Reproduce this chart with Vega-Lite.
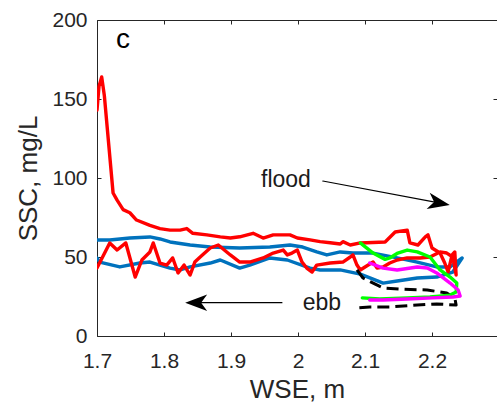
{
  "$schema": "https://vega.github.io/schema/vega-lite/v6.json",
  "width": 400,
  "height": 316,
  "autosize": {"type": "none"},
  "padding": {"left": 97, "top": 20, "right": 0, "bottom": 73},
  "background": "white",
  "config": {
    "font": "Liberation Sans",
    "view": {"stroke": null},
    "line": {"strokeJoin": "round", "strokeCap": "round"},
    "axis": {
      "grid": false,
      "domainColor": "#262626",
      "tickColor": "#262626",
      "labelColor": "#262626",
      "titleColor": "#262626",
      "domainWidth": 1,
      "tickWidth": 1,
      "labelFont": "Liberation Sans",
      "titleFont": "Liberation Sans",
      "labelFontSize": 21,
      "titleFontSize": 26,
      "titleFontWeight": "normal"
    }
  },
  "datasets": {
    "blue": [
      {"wse": 1.700, "ssc": 60.8}, {"wse": 1.719, "ssc": 60.8}, {"wse": 1.749, "ssc": 62}, {"wse": 1.779, "ssc": 62.7},
      {"wse": 1.794, "ssc": 61.4}, {"wse": 1.809, "ssc": 59.5}, {"wse": 1.839, "ssc": 57.6}, {"wse": 1.869, "ssc": 56.3},
      {"wse": 1.913, "ssc": 55.7}, {"wse": 1.958, "ssc": 56.3}, {"wse": 1.988, "ssc": 57.6}, {"wse": 2.007, "ssc": 56.3},
      {"wse": 2.028, "ssc": 53.2}, {"wse": 2.043, "ssc": 51.3}, {"wse": 2.063, "ssc": 53.2}, {"wse": 2.082, "ssc": 52.5},
      {"wse": 2.112, "ssc": 52.5}, {"wse": 2.148, "ssc": 49.4}, {"wse": 2.178, "ssc": 46.8}, {"wse": 2.207, "ssc": 43.7},
      {"wse": 2.227, "ssc": 43.7}, {"wse": 2.245, "ssc": 49.4}, {"wse": 2.231, "ssc": 40.5}, {"wse": 2.207, "ssc": 37.3},
      {"wse": 2.178, "ssc": 36.7}, {"wse": 2.148, "ssc": 34.8}, {"wse": 2.127, "ssc": 33.5}, {"wse": 2.112, "ssc": 36},
      {"wse": 2.093, "ssc": 39.2}, {"wse": 2.063, "ssc": 41.8}, {"wse": 2.033, "ssc": 41.8}, {"wse": 2.018, "ssc": 43},
      {"wse": 1.984, "ssc": 48.1}, {"wse": 1.958, "ssc": 49.4}, {"wse": 1.928, "ssc": 44.9}, {"wse": 1.913, "ssc": 43},
      {"wse": 1.884, "ssc": 48.1}, {"wse": 1.869, "ssc": 46.2}, {"wse": 1.839, "ssc": 43.7}, {"wse": 1.824, "ssc": 41.8},
      {"wse": 1.809, "ssc": 43}, {"wse": 1.779, "ssc": 46.8}, {"wse": 1.764, "ssc": 46.2}, {"wse": 1.734, "ssc": 43.7},
      {"wse": 1.704, "ssc": 46.8}, {"wse": 1.700, "ssc": 49.4}
    ],
    "red": [
      {"wse": 1.700, "ssc": 143}, {"wse": 1.703, "ssc": 158}, {"wse": 1.707, "ssc": 164}, {"wse": 1.711, "ssc": 152},
      {"wse": 1.724, "ssc": 90.5}, {"wse": 1.730, "ssc": 86}, {"wse": 1.739, "ssc": 80}, {"wse": 1.749, "ssc": 78},
      {"wse": 1.759, "ssc": 73.4}, {"wse": 1.779, "ssc": 70}, {"wse": 1.794, "ssc": 68}, {"wse": 1.809, "ssc": 67},
      {"wse": 1.824, "ssc": 67}, {"wse": 1.834, "ssc": 68}, {"wse": 1.843, "ssc": 65}, {"wse": 1.864, "ssc": 64},
      {"wse": 1.884, "ssc": 62.7}, {"wse": 1.899, "ssc": 62}, {"wse": 1.913, "ssc": 62.8}, {"wse": 1.933, "ssc": 65},
      {"wse": 1.948, "ssc": 62}, {"wse": 1.963, "ssc": 64}, {"wse": 1.988, "ssc": 64}, {"wse": 1.999, "ssc": 62},
      {"wse": 2.018, "ssc": 60.8}, {"wse": 2.033, "ssc": 59.7}, {"wse": 2.048, "ssc": 59}, {"wse": 2.063, "ssc": 58.2},
      {"wse": 2.067, "ssc": 59.7}, {"wse": 2.078, "ssc": 57.6}, {"wse": 2.093, "ssc": 58.9}, {"wse": 2.130, "ssc": 59.5},
      {"wse": 2.145, "ssc": 65.8}, {"wse": 2.163, "ssc": 67}, {"wse": 2.167, "ssc": 58.9}, {"wse": 2.179, "ssc": 57.6},
      {"wse": 2.190, "ssc": 62.7}, {"wse": 2.194, "ssc": 64}, {"wse": 2.200, "ssc": 55.7}, {"wse": 2.212, "ssc": 52.5},
      {"wse": 2.219, "ssc": 46.2}, {"wse": 2.224, "ssc": 40.5}, {"wse": 2.230, "ssc": 51.3}, {"wse": 2.234, "ssc": 53.2},
      {"wse": 2.236, "ssc": 38.6}, {"wse": 2.231, "ssc": 50}, {"wse": 2.222, "ssc": 52.5}, {"wse": 2.212, "ssc": 53.2},
      {"wse": 2.197, "ssc": 50}, {"wse": 2.182, "ssc": 49.4}, {"wse": 2.163, "ssc": 49.4}, {"wse": 2.148, "ssc": 48.1},
      {"wse": 2.137, "ssc": 46.2}, {"wse": 2.127, "ssc": 43.7}, {"wse": 2.118, "ssc": 43}, {"wse": 2.112, "ssc": 46.8},
      {"wse": 2.100, "ssc": 43.7}, {"wse": 2.093, "ssc": 41.8}, {"wse": 2.088, "ssc": 44.9}, {"wse": 2.082, "ssc": 51.3},
      {"wse": 2.078, "ssc": 50}, {"wse": 2.067, "ssc": 46.8}, {"wse": 2.048, "ssc": 46.2}, {"wse": 2.028, "ssc": 44.9},
      {"wse": 2.021, "ssc": 40.5}, {"wse": 2.013, "ssc": 43}, {"wse": 2.006, "ssc": 46.8}, {"wse": 1.999, "ssc": 54.4},
      {"wse": 1.991, "ssc": 52.5}, {"wse": 1.984, "ssc": 51.3}, {"wse": 1.978, "ssc": 54.4}, {"wse": 1.963, "ssc": 52.5},
      {"wse": 1.948, "ssc": 49.4}, {"wse": 1.928, "ssc": 46.8}, {"wse": 1.913, "ssc": 46.8}, {"wse": 1.899, "ssc": 51.3},
      {"wse": 1.881, "ssc": 57.6}, {"wse": 1.869, "ssc": 55.7}, {"wse": 1.854, "ssc": 50}, {"wse": 1.846, "ssc": 46.8},
      {"wse": 1.839, "ssc": 38.6}, {"wse": 1.830, "ssc": 44.9}, {"wse": 1.821, "ssc": 39.9}, {"wse": 1.813, "ssc": 49.4},
      {"wse": 1.804, "ssc": 44.9}, {"wse": 1.794, "ssc": 46.2}, {"wse": 1.784, "ssc": 58.9}, {"wse": 1.779, "ssc": 53.2},
      {"wse": 1.767, "ssc": 48.1}, {"wse": 1.757, "ssc": 37.3}, {"wse": 1.743, "ssc": 58.9}, {"wse": 1.730, "ssc": 54.4},
      {"wse": 1.719, "ssc": 58.9}, {"wse": 1.700, "ssc": 43}
    ],
    "dashed": [
      {"wse": 2.088, "ssc": 41.8}, {"wse": 2.097, "ssc": 36.7}, {"wse": 2.127, "ssc": 30.4}, {"wse": 2.152, "ssc": 29.7},
      {"wse": 2.193, "ssc": 29.1}, {"wse": 2.222, "ssc": 27.2}, {"wse": 2.234, "ssc": 24.1}, {"wse": 2.236, "ssc": 19.6},
      {"wse": 2.207, "ssc": 20.3}, {"wse": 2.178, "ssc": 19.6}, {"wse": 2.137, "ssc": 18.4}, {"wse": 2.107, "ssc": 18.4},
      {"wse": 2.085, "ssc": 17.7}
    ],
    "green": [
      {"wse": 2.093, "ssc": 58.9}, {"wse": 2.112, "ssc": 52.5}, {"wse": 2.130, "ssc": 48.5}, {"wse": 2.137, "ssc": 49.4},
      {"wse": 2.149, "ssc": 52.5}, {"wse": 2.163, "ssc": 54.4}, {"wse": 2.178, "ssc": 53.2}, {"wse": 2.197, "ssc": 50},
      {"wse": 2.212, "ssc": 41.8}, {"wse": 2.227, "ssc": 37.3}, {"wse": 2.237, "ssc": 33.5}, {"wse": 2.236, "ssc": 27.8},
      {"wse": 2.227, "ssc": 25.9}, {"wse": 2.197, "ssc": 24.7}, {"wse": 2.163, "ssc": 24.1}, {"wse": 2.122, "ssc": 23.4},
      {"wse": 2.096, "ssc": 24.1}
    ],
    "magenta": [
      {"wse": 2.107, "ssc": 46.2}, {"wse": 2.127, "ssc": 43}, {"wse": 2.148, "ssc": 41.8}, {"wse": 2.178, "ssc": 43.7},
      {"wse": 2.193, "ssc": 43}, {"wse": 2.207, "ssc": 39.9}, {"wse": 2.227, "ssc": 33.5}, {"wse": 2.239, "ssc": 29.1},
      {"wse": 2.242, "ssc": 25.3}, {"wse": 2.231, "ssc": 24.7}, {"wse": 2.201, "ssc": 24.1}, {"wse": 2.163, "ssc": 23.4},
      {"wse": 2.127, "ssc": 22.8}, {"wse": 2.107, "ssc": 22.8}
    ],
    "floodLine": [{"wse": 2.037, "ssc": 98.1}, {"wse": 2.2104, "ssc": 84.2}],
    "floodHead": [{"wse": 2.2104, "ssc": 84.2}],
    "ebbLine": [{"wse": 1.976, "ssc": 21.1}, {"wse": 1.848, "ssc": 21.1}],
    "ebbHead": [{"wse": 1.848, "ssc": 21.1}],
    "labels": [
      {"wse": 1.9448, "ssc": 94.5, "label": "flood"},
      {"wse": 2.007, "ssc": 16.5, "label": "ebb"}
    ],
    "panel": [{"wse": 1.7284, "ssc": 182.3, "label": "c"}]
  },
  "encoding": {
    "x": {"field": "wse", "type": "quantitative", "scale": {"domain": [1.7, 2.297], "nice": false, "zero": false}},
    "y": {"field": "ssc", "type": "quantitative", "scale": {"domain": [0, 200], "nice": false, "zero": false}}
  },
  "resolve": {"axis": {"x": "independent", "y": "independent"}},
  "layer": [
    {
      "data": {"name": "blue"},
      "mark": {"type": "line", "color": "#0072bd", "strokeWidth": 3.4, "clip": true},
      "encoding": {
        "order": {"value": null},
        "x": {"field": "wse", "type": "quantitative", "title": "WSE, m",
          "axis": {"orient": "bottom", "values": [1.7, 1.8, 1.9, 2.0, 2.1, 2.2], "format": "~g", "tickSize": -4, "labelPadding": 18, "titlePadding": 5, "labelFlush": false}},
        "y": {"field": "ssc", "type": "quantitative", "title": "SSC, mg/L",
          "axis": {"orient": "left", "values": [0, 50, 100, 150, 200], "tickSize": -4, "labelPadding": 14, "titlePadding": 10}}
      }
    },
    {
      "data": {"name": "red"},
      "mark": {"type": "line", "color": "#ff0000", "strokeWidth": 3.4, "clip": true},
      "encoding": {"order": {"value": null},
        "x": {"field": "wse", "type": "quantitative", "axis": null},
        "y": {"field": "ssc", "type": "quantitative", "axis": null}}
    },
    {
      "data": {"name": "dashed"},
      "mark": {"type": "line", "color": "#000000", "strokeWidth": 3, "strokeDash": [12, 6], "strokeCap": "butt", "clip": true},
      "encoding": {"order": {"value": null},
        "x": {"field": "wse", "type": "quantitative", "axis": null},
        "y": {"field": "ssc", "type": "quantitative", "axis": null}}
    },
    {
      "data": {"name": "green"},
      "mark": {"type": "line", "color": "#00ff00", "strokeWidth": 3.4, "clip": true},
      "encoding": {"order": {"value": null},
        "x": {"field": "wse", "type": "quantitative", "axis": null},
        "y": {"field": "ssc", "type": "quantitative", "axis": null}}
    },
    {
      "data": {"name": "magenta"},
      "mark": {"type": "line", "color": "#ff00ff", "strokeWidth": 3.4, "clip": true},
      "encoding": {"order": {"value": null},
        "x": {"field": "wse", "type": "quantitative", "title": null,
          "axis": {"orient": "top", "values": [1.7, 1.8, 1.9, 2.0, 2.1, 2.2], "labels": false, "tickSize": -4}},
        "y": {"field": "ssc", "type": "quantitative", "title": null,
          "axis": {"orient": "right", "values": [0, 50, 100, 150, 200], "labels": false, "tickSize": -4}}}
    },
    {
      "data": {"name": "floodLine"},
      "mark": {"type": "line", "color": "#000000", "strokeWidth": 1.2},
      "encoding": {"order": {"value": null},
        "x": {"field": "wse", "type": "quantitative", "axis": null},
        "y": {"field": "ssc", "type": "quantitative", "axis": null}}
    },
    {
      "data": {"name": "ebbLine"},
      "mark": {"type": "line", "color": "#000000", "strokeWidth": 1.2},
      "encoding": {"order": {"value": null},
        "x": {"field": "wse", "type": "quantitative", "axis": null},
        "y": {"field": "ssc", "type": "quantitative", "axis": null}}
    },
    {
      "data": {"name": "floodHead"},
      "mark": {"type": "point", "shape": "M1,0L-1,-0.75L-0.45,0L-1,0.75Z", "filled": true, "color": "#000000", "size": 484, "angle": 10.7, "opacity": 1},
      "encoding": {
        "x": {"field": "wse", "type": "quantitative", "axis": null},
        "y": {"field": "ssc", "type": "quantitative", "axis": null}}
    },
    {
      "data": {"name": "ebbHead"},
      "mark": {"type": "point", "shape": "M1,0L-1,-0.75L-0.45,0L-1,0.75Z", "filled": true, "color": "#000000", "size": 484, "angle": 180, "opacity": 1},
      "encoding": {
        "x": {"field": "wse", "type": "quantitative", "axis": null},
        "y": {"field": "ssc", "type": "quantitative", "axis": null}}
    },
    {
      "data": {"name": "labels"},
      "mark": {"type": "text", "align": "left", "baseline": "alphabetic", "fontSize": 23, "font": "Liberation Sans", "color": "#1a1a1a"},
      "encoding": {
        "x": {"field": "wse", "type": "quantitative", "axis": null},
        "y": {"field": "ssc", "type": "quantitative", "axis": null},
        "text": {"field": "label"}}
    },
    {
      "data": {"name": "panel"},
      "mark": {"type": "text", "align": "left", "baseline": "alphabetic", "fontSize": 28, "font": "Liberation Sans", "color": "#000000"},
      "encoding": {
        "x": {"field": "wse", "type": "quantitative", "axis": null},
        "y": {"field": "ssc", "type": "quantitative", "axis": null},
        "text": {"field": "label"}}
    }
  ]
}
